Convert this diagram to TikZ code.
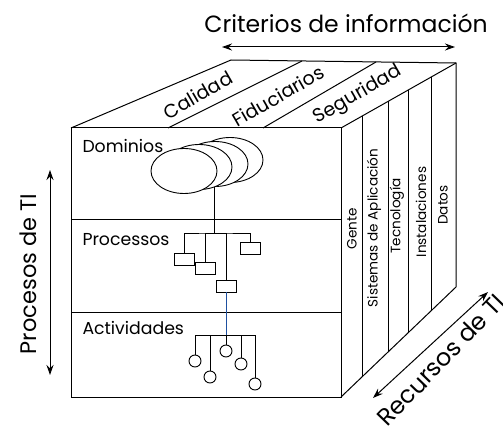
\documentclass[tikz,border=0pt]{standalone}
\usepackage{fontspec}
\setmainfont{Poppins}
\usetikzlibrary{arrows.meta,shapes.geometric,calc}
\tikzstyle{every node}=[inner sep=0pt]
\tikzstyle{dom}=[draw,ellipse,fill=white,line width=0.9pt,minimum width=66pt,minimum height=45pt]
\tikzstyle{proc}=[draw,line width=0.9pt,minimum width=20pt,minimum height=12pt]
\tikzstyle{act}=[draw,circle,line width=0.9pt,minimum size=12pt]
\tikzstyle{nivel}=[anchor=west,font=\fontsize{17.3}{17}\selectfont]
\tikzstyle{crit}=[rotate=30,font=\fontsize{19}{19}\selectfont]
\tikzstyle{recurso}=[rotate=90,font=\fontsize{13.6}{14}\selectfont]
\tikzstyle{eje}=[font=\fontsize{23.5}{24}\selectfont]
\tikzstyle{dim}=[{Stealth[length=10pt,width=7pt]}-{Stealth[length=10pt,width=7pt]},line width=1pt]

\begin{document}
\begin{tikzpicture}[x=1pt,y=-1pt,line width=1pt]
\useasboundingbox (0,0) rectangle (503,430);
\coordinate (fa) at (71,128);
\coordinate (fb) at (341,128);
\coordinate (fc) at (341,397);
\coordinate (ba) at (231,60);
\coordinate (bb) at (456,63);
\coordinate (bc) at (456,287);
\draw (fa) rectangle (fc);
\draw (fa) -- (ba) -- (bb) -- (bc) -- (fc);
\draw (fb) -- (bb);
\draw (71,220) -- (341,220) (71,312) -- (341,312);
\draw (168,128) -- (302,61) (263,128) -- (376,62);
\foreach \t in {0.191,0.409,0.591,0.791}
	\draw ($(fb)!\t!(bb)$) -- ($(fc)!\t!(bc)$);

\node[crit] (cal) at (198,95) {Calidad};
\node[crit] (fid) at (278,96) {Fiduciarios};
\node[crit] (seg) at (358,95) {Seguridad};

\node[recurso] (gen) at (352,229) {Gente};
\node[recurso] (sis) at (374,228) {Sistemas de Aplicación};
\node[recurso] (tec) at (397,216) {Tecnología};
\node[recurso] (ins) at (421,212) {Instalaciones};
\node[recurso] (dat) at (443,205) {Datos};

\node[nivel] (dominios) at (82,146) {Dominios};
\node[nivel] (procesos) at (82,240) {Processos};
\node[nivel] (activ) at (82,328) {Actividades};

\coordinate (pb) at (214,234);
\coordinate (ab) at (226,335);
\draw (pb) -- (214,170);
\node[dom] (d4) at (230,160) {};
\node[dom] (d3) at (215,164) {};
\node[dom] (d2) at (199,167) {};
\node[dom] (d1) at (184,171) {};

\node[proc] (p1) at (184,259) {};
\node[proc] (p2) at (205,268) {};
\node[proc] (p3) at (226,286) {};
\node[proc] (p4) at (250,248) {};
\draw (p1) |- (pb) -| (p4);
\draw (p2) |- (pb);
\draw (p3) |- (pb);
\draw[color={rgb,255:red,30;green,80;blue,160}] (p3) -- (ab);

\node[act] (a1) at (195,361) {};
\node[act] (a2) at (210,377) {};
\node[act] (a3) at (226,351) {};
\node[act] (a4) at (241,364) {};
\node[act] (a5) at (255,384) {};
\draw (a1) |- (ab) -| (a5);
\draw (a2) |- (ab);
\draw (a3) -- (ab);
\draw (a4) |- (ab);

\node[eje] (titulo) at (346,23) {Criterios de información};
\coordinate (t1) at (222,47);
\coordinate (t2) at (455,47);
\draw[dim] (t1) -- (t2);

\node[eje,rotate=90,font=\fontsize{22.5}{23}\selectfont] (proc) at (28,274) {Procesos de TI};
\coordinate (l1) at (50,170);
\coordinate (l2) at (50,375);
\draw[dim] (l1) -- (l2);

\node[eje,rotate=46,anchor=base,font=\fontsize{24}{24}\selectfont] (rec) at (447,366) {Recursos de TI};
\coordinate (r1) at (373,398);
\coordinate (r2) at (488,292);
\draw[dim] (r1) -- (r2);
\end{tikzpicture}
\end{document}
